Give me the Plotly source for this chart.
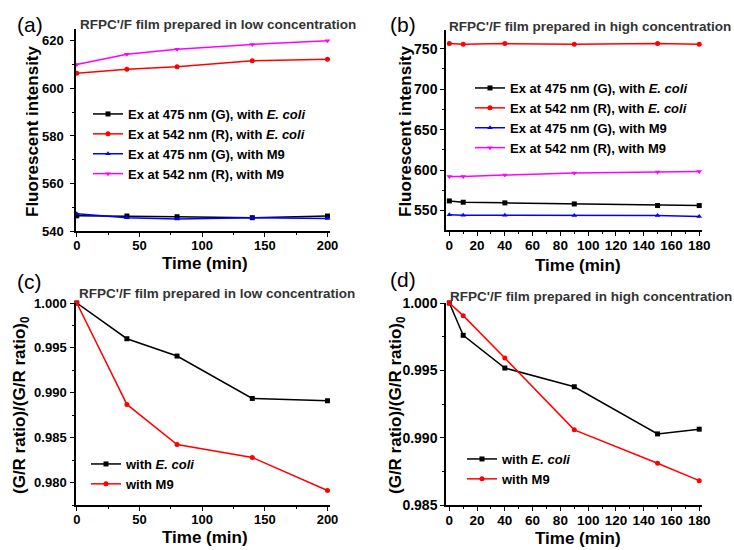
import plotly.graph_objects as go

# ---------------- data ----------------
time_low = [0, 40, 80, 140, 200]
time_high = [0, 10, 40, 90, 150, 180]

# (a) low concentration, fluorescent intensity
a_g_ecoli = [546.4, 546.3, 546.0, 545.6, 546.3]
a_r_ecoli = [606.4, 608.1, 609.1, 611.6, 612.3]
a_g_m9 = [547.3, 545.6, 545.0, 545.6, 545.3]
a_r_m9 = [610.1, 614.4, 616.5, 618.5, 620.1]

# (b) high concentration, fluorescent intensity
b_g_ecoli = [561.9, 560.3, 559.5, 558.2, 556.2, 556.2]
b_r_ecoli = [756.2, 755.3, 756.2, 755.3, 756.2, 755.3]
b_g_m9 = [544.7, 544.2, 544.2, 543.8, 543.8, 542.6]
b_r_m9 = [592.2, 592.2, 593.8, 596.3, 597.5, 598.4]

# (c) low concentration, normalised G/R ratio
c_ecoli = [1.000, 0.99602, 0.99409, 0.98937, 0.98911]
c_m9 = [1.000, 0.98870, 0.98424, 0.98279, 0.97911]

# (d) high concentration, normalised G/R ratio
d_ecoli = [1.000, 0.99760, 0.99517, 0.99378, 0.99028, 0.99063]
d_m9 = [1.000, 0.99906, 0.99591, 0.99058, 0.98810, 0.98681]

legend_int = ["Ex at 475 nm (G), with <i>E. coli</i>",
              "Ex at 542 nm (R), with <i>E. coli</i>",
              "Ex at 475 nm (G), with M9",
              "Ex at 542 nm (R), with M9"]
legend_ratio = ["with <i>E. coli</i>", "with M9"]

titles = ["RFPC'/F film prepared in low concentration",
          "RFPC'/F film prepared in high concentration",
          "RFPC'/F film prepared in low concentration",
          "RFPC'/F film prepared in high concentration"]
panel_labels = ["(a)", "(b)", "(c)", "(d)"]
x_title = "Time (min)"
y_titles = ["Fluorescent intensity", "Fluorescent intensity",
            "(G/R ratio)/(G/R ratio)<sub>0</sub>", "(G/R ratio)/(G/R ratio)<sub>0</sub>"]

# ---------------- styling ----------------
W, H = 734, 550
FONT = "Arial, Liberation Sans, sans-serif"
colors = ["#000000", "#ff0000", "#0000ff", "#ff00ff"]
symbols = ["square", "circle", "triangle-up", "triangle-down"]


def px_x(p):
    return p / W


def px_y(p):
    return 1 - p / H


fig = go.Figure()


def add_series(x, y, i, name, xa, ya, legend):
    fig.add_trace(go.Scatter(
        x=x, y=y, name=name, mode="lines+markers",
        line=dict(color=colors[i], width=1.5),
        marker=dict(symbol=symbols[i], size=5, color=colors[i]),
        xaxis=xa, yaxis=ya, legend=legend, cliponaxis=False))


for i, (ys, nm) in enumerate(zip([a_g_ecoli, a_r_ecoli, a_g_m9, a_r_m9], legend_int)):
    add_series(time_low, ys, i, nm, "x", "y", "legend")
for i, (ys, nm) in enumerate(zip([b_g_ecoli, b_r_ecoli, b_g_m9, b_r_m9], legend_int)):
    add_series(time_high, ys, i, nm, "x2", "y2", "legend2")
for i, (ys, nm) in enumerate(zip([c_ecoli, c_m9], legend_ratio)):
    add_series(time_low, ys, i, nm, "x3", "y3", "legend3")
for i, (ys, nm) in enumerate(zip([d_ecoli, d_m9], legend_ratio)):
    add_series(time_high, ys, i, nm, "x4", "y4", "legend4")

axis_common = dict(showline=True, linecolor="black", linewidth=1.5, mirror=False,
                   showgrid=False, zeroline=False, ticks="outside", ticklen=4,
                   tickwidth=1.2, tickcolor="black", automargin=False)


def tfont(size):
    return dict(family=FONT, size=size, color="black", weight="bold")


def xaxis(domain, rng, dtick, anchor, fs):
    return dict(axis_common, domain=domain, range=rng, dtick=dtick, tick0=0,
                anchor=anchor, tickfont=tfont(fs), ticklabelstandoff=-2,
                minor=dict(ticks="outside", ticklen=2, tickwidth=1, tickcolor="black",
                           dtick=dtick / 2, tick0=0))


def yaxis(domain, rng, dtick, tick0, anchor, fs, fmt=None, standoff=0):
    d = dict(axis_common, domain=domain, range=rng, dtick=dtick, tick0=tick0,
             anchor=anchor, ticklabelstandoff=standoff, tickfont=tfont(fs),
             minor=dict(ticks="outside", ticklen=2, tickwidth=1, tickcolor="black",
                        dtick=dtick / 2, tick0=tick0))
    if fmt:
        d["tickformat"] = fmt
    return d


xd_left = [px_x(76), px_x(330)]
xd_right = [px_x(446), px_x(702)]
yd_top = [px_y(231), px_y(29)]
yd_top_b = [px_y(230), px_y(30)]
yd_bot = [px_y(505), px_y(303)]

fig.update_layout(
    template="none",
    width=W, height=H,
    margin=dict(l=0, r=0, t=0, b=0),
    paper_bgcolor="white", plot_bgcolor="white",
    font=dict(family=FONT, color="black"),
    xaxis=xaxis(xd_left, [-0.6, 202], 50, "y", 13),
    yaxis=yaxis(yd_top, [540, 625], 20, 540, "x", 13, standoff=4),
    xaxis2=xaxis(xd_right, [-2.4, 182], 20, "y2", 13.5),
    yaxis2=yaxis(yd_top_b, [526, 773], 50, 550, "x2", 14),
    xaxis3=xaxis(xd_left, [-0.6, 202], 50, "y3", 13),
    yaxis3=yaxis(yd_bot, [0.9775, 1.0], 0.005, 1.0, "x3", 13, ".3f", standoff=1),
    xaxis4=xaxis(xd_right, [-2.4, 182], 20, "y4", 13.5),
    yaxis4=yaxis(yd_bot, [0.985, 1.0], 0.005, 1.0, "x4", 14, ".3f"),
)

legend_common = dict(bgcolor="rgba(0,0,0,0)", borderwidth=0, xanchor="left", yanchor="top",
                     tracegroupgap=0, itemwidth=30,
                     font=dict(family=FONT, size=13, color="black", weight="bold"))
fig.update_layout(
    legend=dict(legend_common, x=px_x(88), y=px_y(99)),
    legend2=dict(legend_common, x=px_x(470), y=px_y(73)),
    legend3=dict(legend_common, x=px_x(86), y=px_y(449)),
    legend4=dict(legend_common, x=px_x(462), y=px_y(444)),
)

# subplot titles and panel labels
title_pos = [(78, 25), (447, 27), (77, 293), (448, 296)]
label_pos = [(15, 24), (388, 24), (15, 281), (388, 279)]
for t, (x, y) in zip(titles, title_pos):
    fig.add_annotation(text=t, xref="paper", yref="paper", x=px_x(x), y=px_y(y),
                       xanchor="left", yanchor="middle", showarrow=False,
                       font=dict(family=FONT, size=13.5, color="#333333", weight="bold"))
for t, (x, y) in zip(panel_labels, label_pos):
    fig.add_annotation(text=t, xref="paper", yref="paper", x=px_x(x), y=px_y(y),
                       xanchor="left", yanchor="middle", showarrow=False,
                       font=dict(family=FONT, size=21, color="black"))

# axis titles
xt_pos = [(205, 263), (578, 265), (205, 537), (578, 538)]
yt_pos = [(32, 131), (405, 131), (21, 405), (397, 405)]
for (x, y) in xt_pos:
    fig.add_annotation(text=x_title, xref="paper", yref="paper", x=px_x(x), y=px_y(y),
                       xanchor="center", yanchor="middle", showarrow=False,
                       font=dict(family=FONT, size=17, color="black", weight="bold"))
for t, (x, y) in zip(y_titles, yt_pos):
    fig.add_annotation(text=t, xref="paper", yref="paper", x=px_x(x), y=px_y(y),
                       xanchor="center", yanchor="middle", showarrow=False, textangle=-90,
                       font=dict(family=FONT, size=17, color="black", weight="bold"))

# remove the page's default body margin so the figure sits at the top-left corner
fig.write_html("out.html", config={"displayModeBar": False},
               post_script="document.body.style.margin='0';document.body.style.padding='0';")
